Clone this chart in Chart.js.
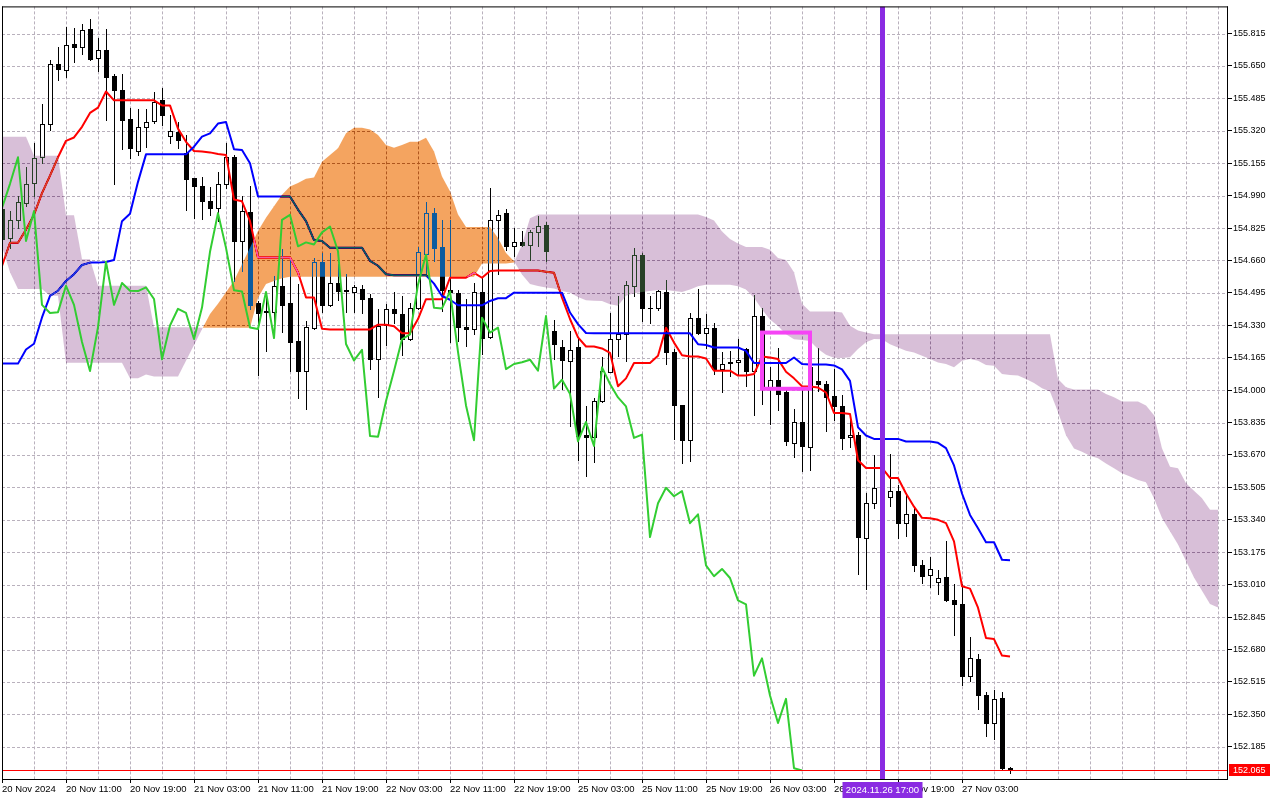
<!DOCTYPE html>
<html>
<head>
<meta charset="utf-8">
<title>USDJPY H1 - Ichimoku</title>
<script src="https://cdn.jsdelivr.net/npm/chart.js@4.4.1/dist/chart.umd.min.js"></script>
<style>
  html, body { margin: 0; padding: 0; background: #fff; overflow: hidden; }
  #wrap { width: 1280px; height: 800px; }
</style>
</head>
<body>
<div id="wrap"><canvas id="ichimokuChart" width="1280" height="800"></canvas></div>
<script>
// H1 bars, 20 Nov 2024 03:00 .. 27 Nov 2024 09:00 (index 0..126)
const openP = [154.92, 154.775, 154.865, 154.952, 155.053, 155.188, 155.353, 155.66, 155.631, 155.761,
  155.748, 155.837, 155.689, 155.731, 155.601, 155.529, 155.382, 155.218, 155.34, 155.37,
  155.475, 155.293, 155.315, 155.208, 155.079, 155.037, 154.963, 154.927, 155.05, 155.185,
  154.759, 154.907, 154.444, 154.402, 154.397, 154.531, 154.444, 154.25, 154.097, 154.316,
  154.653, 154.434, 154.545, 154.508, 154.501, 154.515, 154.467, 154.157, 154.333, 154.414,
  154.39, 154.26, 154.417, 154.693, 154.901, 154.727, 154.508, 154.496, 154.323, 154.311,
  154.501, 154.269, 154.867, 154.901, 154.732, 154.752, 154.737, 154.803, 154.838, 154.299,
  154.222, 154.148, 154.218, 153.772, 153.763, 153.945, 154.094, 154.259, 154.284, 154.532,
  154.689, 154.419, 154.416, 154.498, 154.195, 153.922, 153.745, 154.369, 154.293, 154.318,
  154.107, 154.138, 154.141, 154.208, 154.099, 154.377, 154.01, 154.053, 153.99, 153.732,
  153.838, 153.711, 154.048, 154.03, 153.968, 153.921, 153.764, 153.774, 153.247, 153.424,
  153.50, 153.457, 153.486, 153.323, 153.368, 153.108, 153.058, 153.023, 153.048, 152.93,
  152.91, 152.547, 152.632, 152.446, 152.306, 152.434, 152.076];
const highP = [154.95, 154.91, 154.99, 155.138, 155.259, 155.458, 155.68, 155.748, 155.849, 155.845,
  155.862, 155.887, 155.791, 155.837, 155.609, 155.609, 155.438, 155.433, 155.433, 155.517,
  155.539, 155.399, 155.365, 155.298, 155.082, 155.084, 155.034, 155.108, 155.259, 155.197,
  154.986, 155.037, 154.456, 154.489, 154.582, 154.717, 154.666, 154.54, 154.35, 154.67,
  154.70, 154.70, 154.641, 154.59, 154.535, 154.535, 154.49, 154.414, 154.439, 154.498,
  154.479, 154.446, 154.727, 154.956, 154.929, 154.867, 154.867, 154.508, 154.463, 154.547,
  154.572, 155.027, 154.918, 154.923, 154.825, 154.811, 154.816, 154.884, 154.855, 154.356,
  154.255, 154.299, 154.272, 153.918, 153.962, 154.168, 154.394, 154.478, 154.554, 154.722,
  154.70, 154.478, 154.512, 154.562, 154.208, 153.925, 154.394, 154.515, 154.385, 154.34,
  154.195, 154.20, 154.259, 154.217, 154.486, 154.419, 154.116, 154.217, 154.015, 153.905,
  154.006, 154.15, 154.216, 154.047, 154.106, 153.976, 153.85, 153.786, 153.474, 153.671,
  153.66, 153.676, 153.516, 153.474, 153.407, 153.137, 153.149, 153.087, 153.23, 153.011,
  153.011, 152.745, 152.657, 152.463, 152.472, 152.463, 152.084];
const lowP = [154.74, 154.725, 154.826, 154.939, 154.99, 155.155, 155.323, 155.576, 155.596, 155.668,
  155.711, 155.68, 155.626, 155.373, 155.05, 155.225, 155.18, 155.197, 155.239, 155.36,
  155.348, 155.256, 155.23, 154.919, 154.876, 154.872, 154.889, 154.86, 155.028, 154.557,
  154.607, 154.413, 154.076, 154.198, 154.343, 154.296, 154.097, 153.962, 153.905, 154.309,
  154.40, 154.427, 154.461, 154.397, 154.40, 154.393, 154.107, 153.967, 154.228, 154.343,
  154.181, 154.257, 154.412, 154.589, 154.656, 154.404, 154.244, 154.252, 154.227, 154.286,
  154.185, 154.265, 154.592, 154.715, 154.682, 154.732, 154.66, 154.732, 154.656, 154.159,
  154.008, 153.817, 153.642, 153.564, 153.632, 153.94, 154.09, 154.175, 154.149, 154.478,
  154.352, 154.34, 154.41, 154.133, 153.753, 153.627, 153.639, 154.284, 154.217, 154.082,
  153.99, 154.074, 154.082, 154.023, 153.875, 153.93, 153.83, 153.897, 153.72, 153.661,
  153.588, 153.593, 153.997, 153.79, 153.85, 153.702, 153.71, 153.065, 152.986, 153.398,
  153.42, 153.412, 153.247, 153.26, 153.078, 153.019, 153.0, 152.964, 152.927, 152.755,
  152.497, 152.519, 152.379, 152.239, 152.227, 152.067, 152.053];
const closeP = [154.77, 154.865, 154.956, 155.05, 155.183, 155.357, 155.66, 155.635, 155.756, 155.748,
  155.832, 155.685, 155.731, 155.596, 155.525, 155.377, 155.23, 155.34, 155.365, 155.466,
  155.399, 155.32, 155.272, 155.075, 155.037, 154.963, 154.927, 155.05, 155.185, 154.759,
  154.911, 154.434, 154.393, 154.397, 154.531, 154.434, 154.245, 154.097, 154.321, 154.653,
  154.434, 154.545, 154.506, 154.504, 154.523, 154.464, 154.157, 154.329, 154.414, 154.393,
  154.26, 154.42, 154.704, 154.901, 154.724, 154.508, 154.502, 154.319, 154.311, 154.5,
  154.265, 154.867, 154.892, 154.732, 154.752, 154.741, 154.803, 154.833, 154.707, 154.235,
  154.151, 154.205, 153.767, 153.763, 153.945, 154.097, 154.259, 154.284, 154.537, 154.689,
  154.419, 154.416, 154.503, 154.195, 153.922, 153.745, 154.369, 154.293, 154.318, 154.107,
  154.133, 154.142, 154.155, 154.099, 154.377, 154.008, 154.053, 153.981, 153.74, 153.838,
  153.716, 154.116, 154.031, 153.963, 153.917, 153.757, 153.774, 153.252, 153.424, 153.503,
  153.46, 153.486, 153.323, 153.368, 153.108, 153.053, 153.09, 153.044, 152.93, 152.91,
  152.547, 152.635, 152.446, 152.306, 152.429, 152.076, 152.065];

// Tenkan-sen / Kijun-sen per bar
const tenkan = [154.632, 154.75, 154.75, 154.817, 154.893, 155.003, 155.092, 155.185, 155.269, 155.286,
  155.34, 155.411, 155.438, 155.52, 155.475, 155.475, 155.475, 155.475, 155.475, 155.475,
  155.449, 155.449, 155.331, 155.264, 155.217, 155.214, 155.21, 155.202, 155.197, 154.97,
  154.961, 154.86, 154.675, 154.675, 154.675, 154.675, 154.675, 154.599, 154.472, 154.472,
  154.312, 154.309, 154.309, 154.309, 154.309, 154.309, 154.309, 154.333, 154.333, 154.325,
  154.289, 154.289, 154.362, 154.463, 154.463, 154.463, 154.572, 154.572, 154.572, 154.597,
  154.572, 154.606, 154.609, 154.609, 154.609, 154.609, 154.609, 154.609, 154.603, 154.597,
  154.471, 154.362, 154.269, 154.222, 154.222, 154.212, 154.19, 154.02, 154.06, 154.138,
  154.138, 154.138, 154.175, 154.318, 154.242, 154.178, 154.171, 154.171, 154.161, 154.099,
  154.099, 154.099, 154.074, 154.074, 154.082, 154.171, 154.166, 154.158, 154.094, 154.06,
  154.02, 154.018, 154.013, 153.988, 153.884, 153.884, 153.879, 153.643, 153.604, 153.604,
  153.604, 153.553, 153.553, 153.474, 153.407, 153.35, 153.348, 153.34, 153.323, 153.23,
  153.002, 152.99, 152.893, 152.738, 152.733, 152.649, 152.645];
const kijun = [154.135, 154.135, 154.135, 154.207, 154.236, 154.37, 154.48, 154.506, 154.556, 154.59,
  154.637, 154.649, 154.649, 154.652, 154.662, 154.86, 154.898, 155.06, 155.2, 155.2,
  155.2, 155.2, 155.2, 155.2, 155.239, 155.29, 155.307, 155.357, 155.365, 155.226,
  155.222, 155.155, 154.986, 154.986, 154.986, 154.986, 154.986, 154.919, 154.86, 154.764,
  154.759, 154.725, 154.725, 154.725, 154.725, 154.725, 154.658, 154.633, 154.59, 154.585,
  154.585, 154.585, 154.585, 154.585, 154.542, 154.479, 154.46, 154.432, 154.432, 154.432,
  154.432, 154.454, 154.468, 154.468, 154.496, 154.496, 154.496, 154.496, 154.496, 154.496,
  154.496, 154.395, 154.336, 154.291, 154.289, 154.289, 154.289, 154.289, 154.289, 154.289,
  154.289, 154.289, 154.289, 154.289, 154.289, 154.289, 154.289, 154.234, 154.23, 154.217,
  154.217, 154.217, 154.217, 154.2, 154.138, 154.138, 154.138, 154.138, 154.138, 154.166,
  154.133, 154.131, 154.131, 154.131, 154.126, 154.106, 154.047, 153.811, 153.769, 153.752,
  153.752, 153.752, 153.752, 153.739, 153.739, 153.739, 153.739, 153.732, 153.705, 153.617,
  153.474, 153.365, 153.297, 153.226, 153.226, 153.137, 153.134];

// Chikou span, plotted 26 bars back (index 0..100)
const chikou = [154.927, 155.05, 155.185, 154.759, 154.911, 154.434, 154.393, 154.397, 154.531, 154.434,
  154.245, 154.097, 154.321, 154.653, 154.434, 154.545, 154.506, 154.504, 154.523, 154.464,
  154.157, 154.329, 154.414, 154.393, 154.26, 154.42, 154.704, 154.901, 154.724, 154.508,
  154.502, 154.319, 154.311, 154.5, 154.265, 154.867, 154.892, 154.732, 154.752, 154.741,
  154.803, 154.833, 154.707, 154.235, 154.151, 154.205, 153.767, 153.763, 153.945, 154.097,
  154.259, 154.284, 154.537, 154.689, 154.419, 154.416, 154.503, 154.195, 153.922, 153.745,
  154.369, 154.293, 154.318, 154.107, 154.133, 154.142, 154.155, 154.099, 154.377, 154.008,
  154.053, 153.981, 153.74, 153.838, 153.716, 154.116, 154.031, 153.963, 153.917, 153.757,
  153.774, 153.252, 153.424, 153.503, 153.46, 153.486, 153.323, 153.368, 153.108, 153.053,
  153.09, 153.044, 152.93, 152.91, 152.547, 152.635, 152.446, 152.306, 152.429, 152.076,
  152.065];

// Senkou spans, shifted 26 bars forward (index 0..152)
const spanA = [154.73, 154.6, 154.515, 154.515, 154.515, 154.515, 154.48, 154.48, 154.14, 154.14,
  154.14, 154.14, 154.14, 154.14, 154.14, 154.14, 154.06, 154.06, 154.08, 154.07,
  154.07, 154.07, 154.07, 154.15, 154.23, 154.31, 154.388, 154.44, 154.498, 154.557,
  154.641, 154.725, 154.81, 154.877, 154.936, 154.995, 155.037, 155.054, 155.076, 155.082,
  155.163, 155.197, 155.231, 155.307, 155.335, 155.335, 155.327, 155.298, 155.248, 155.234,
  155.248, 155.264, 155.264, 155.285, 155.214, 155.087, 155.012, 154.894, 154.83, 154.83,
  154.83, 154.83, 154.774, 154.698, 154.656, 154.589, 154.54, 154.53, 154.522, 154.517,
  154.505, 154.496, 154.474, 154.458, 154.455, 154.454, 154.437, 154.429, 154.48, 154.493,
  154.5, 154.505, 154.51, 154.51, 154.505, 154.5, 154.512, 154.529, 154.537, 154.537,
  154.537, 154.537, 154.529, 154.512, 154.47, 154.41, 154.36, 154.326, 154.284, 154.259,
  154.255, 154.25, 154.21, 154.18, 154.165, 154.163, 154.168, 154.21, 154.244, 154.26,
  154.259, 154.234, 154.217, 154.2, 154.192, 154.175, 154.158, 154.141, 154.133, 154.116,
  154.15, 154.158, 154.15, 154.128, 154.124, 154.082, 154.077, 154.074, 154.057, 154.037,
  154.01, 153.993, 153.889, 153.77, 153.703, 153.686, 153.666, 153.653, 153.627, 153.602,
  153.577, 153.56, 153.543, 153.531, 153.45, 153.349, 153.282, 153.215, 153.13, 153.046,
  152.979, 152.911, 152.894];
const spanB = [155.289, 155.289, 155.289, 155.289, 155.193, 155.193, 155.193, 155.193, 154.89, 154.89,
  154.666, 154.666, 154.531, 154.531, 154.531, 154.531, 154.531, 154.531, 154.531, 154.32,
  154.32, 154.32, 154.32, 154.32, 154.32, 154.318, 154.318, 154.318, 154.318, 154.318,
  154.318, 154.318, 154.47, 154.54, 154.556, 154.57, 154.577, 154.577, 154.577, 154.577,
  154.577, 154.577, 154.577, 154.577, 154.577, 154.577, 154.577, 154.577, 154.577, 154.577,
  154.577, 154.577, 154.577, 154.577, 154.577, 154.577, 154.577, 154.577, 154.577, 154.577,
  154.644, 154.644, 154.644, 154.644, 154.65, 154.74, 154.875, 154.894, 154.894, 154.894,
  154.894, 154.894, 154.894, 154.894, 154.894, 154.894, 154.894, 154.894, 154.894, 154.894,
  154.894, 154.894, 154.894, 154.894, 154.894, 154.894, 154.894, 154.894, 154.881, 154.864,
  154.808, 154.769, 154.746, 154.729, 154.729, 154.729, 154.715, 154.673, 154.662, 154.6,
  154.44, 154.40, 154.40, 154.40, 154.40, 154.395, 154.328, 154.303, 154.294, 154.285,
  154.285, 154.285, 154.285, 154.285, 154.285, 154.285, 154.285, 154.285, 154.285, 154.285,
  154.285, 154.285, 154.285, 154.285, 154.285, 154.285, 154.285, 154.285, 154.285, 154.285,
  154.285, 154.285, 154.057, 154.015, 154.003, 154.003, 154.003, 154.003, 153.981, 153.964,
  153.942, 153.942, 153.942, 153.922, 153.872, 153.703, 153.61, 153.602, 153.526, 153.488,
  153.45, 153.391, 153.391];

// axis ticks
const priceTicks = [155.815, 155.650, 155.485, 155.320, 155.155, 154.990, 154.825, 154.660,
  154.495, 154.330, 154.165, 154.000, 153.835, 153.670, 153.505, 153.340, 153.175, 153.010,
  152.845, 152.680, 152.515, 152.350, 152.185];
const labelBars = [0, 8, 16, 24, 32, 40, 48, 56, 64, 72, 80, 88, 96, 104, 112, 120];
const timeLabels = ['20 Nov 2024', '20 Nov 11:00', '20 Nov 19:00', '21 Nov 03:00', '21 Nov 11:00',
  '21 Nov 19:00', '22 Nov 03:00', '22 Nov 11:00', '22 Nov 19:00', '25 Nov 03:00', '25 Nov 11:00',
  '25 Nov 19:00', '26 Nov 03:00', '26 Nov 11:00', '26 Nov 19:00', '27 Nov 03:00'];

// chart objects drawn on top
const bidPrice = 152.065;
const vlineBar = 110;
const vlineLabel = '2024.11.26 17:00';
const boxBars = [95, 101];
const boxPrices = [154.293, 154.007];

const FONT = 'Liberation Sans';
// cloud colours are painted in difference mode: inverse of sandy brown / thistle
const CLOUD_UP = '#0b5b9f';
const CLOUD_DOWN = '#274027';

function clipArea(ctx, a) {
    ctx.beginPath();
    ctx.rect(a.left, a.top, a.right - a.left, a.bottom - a.top);
    ctx.clip();
}

function fillPoly(ctx, pts, color) {
    ctx.fillStyle = color;
    ctx.beginPath();
    ctx.moveTo(pts[0][0], pts[0][1]);
    for (let k = 1; k < pts.length; k++) ctx.lineTo(pts[k][0], pts[k][1]);
    ctx.closePath();
    ctx.fill();
}

const ichimokuDraw = {
    id: 'ichimokuDraw',
    beforeDraw(chart) {
        const ctx = chart.ctx;
        ctx.save();
        ctx.fillStyle = '#fff';
        ctx.fillRect(0, 0, chart.width, chart.height);
        ctx.restore();
    },
    beforeDatasetsDraw(chart) {
        const {ctx, chartArea: a, scales: {x, y}} = chart;
        ctx.save();
        clipArea(ctx, a);
        // dotted grid
        ctx.strokeStyle = '#b9b1bd';
        ctx.lineWidth = 1;
        ctx.setLineDash([3, 2]);
        priceTicks.forEach(function(v) {
            const py = Math.round(y.getPixelForValue(v)) + 0.5;
            ctx.beginPath(); ctx.moveTo(a.left, py); ctx.lineTo(a.right, py); ctx.stroke();
        });
        for (let i = 4; i <= x.max; i += 4) {
            const px = Math.round(x.getPixelForValue(i)) + 0.5;
            ctx.beginPath(); ctx.moveTo(px, a.top); ctx.lineTo(px, a.bottom); ctx.stroke();
        }
        ctx.setLineDash([]);
        // candles
        for (let i = 0; i < closeP.length; i++) {
            const cx = Math.round(x.getPixelForValue(i));
            const yh = Math.round(y.getPixelForValue(highP[i]));
            const yl = Math.round(y.getPixelForValue(lowP[i]));
            const yo = Math.round(y.getPixelForValue(openP[i]));
            const yc = Math.round(y.getPixelForValue(closeP[i]));
            const top = Math.min(yo, yc), h = Math.abs(yo - yc);
            ctx.fillStyle = '#000';
            ctx.fillRect(cx, yh, 1, Math.max(1, yl - yh + 1));
            ctx.fillRect(cx - 2, top, 5, h + 1);
            if (closeP[i] > openP[i] && h >= 2) {
                ctx.fillStyle = '#fff';
                ctx.fillRect(cx - 1, top + 1, 3, h - 1);
            }
        }
        ctx.restore();
    },
    afterDatasetDraw(chart, args) {
        // cloud goes over candles, tenkan and kijun, under chikou
        if (args.index !== 1) return;
        const {ctx, chartArea: a, scales: {x, y}} = chart;
        ctx.save();
        clipArea(ctx, a);
        ctx.globalCompositeOperation = 'difference';
        for (let i = 0; i < spanA.length - 1; i++) {
            const x0 = x.getPixelForValue(i), x1 = x.getPixelForValue(i + 1);
            const a0 = y.getPixelForValue(spanA[i]), a1 = y.getPixelForValue(spanA[i + 1]);
            const b0 = y.getPixelForValue(spanB[i]), b1 = y.getPixelForValue(spanB[i + 1]);
            const d0 = spanA[i] - spanB[i], d1 = spanA[i + 1] - spanB[i + 1];
            if (d0 * d1 >= 0) {
                fillPoly(ctx, [[x0, a0], [x1, a1], [x1, b1], [x0, b0]], (d0 + d1) > 0 ? CLOUD_UP : CLOUD_DOWN);
            } else {
                const t = d0 / (d0 - d1);
                const xc = x0 + t * (x1 - x0), yc = a0 + t * (a1 - a0);
                fillPoly(ctx, [[x0, a0], [xc, yc], [x0, b0]], d0 > 0 ? CLOUD_UP : CLOUD_DOWN);
                fillPoly(ctx, [[xc, yc], [x1, a1], [x1, b1]], d1 > 0 ? CLOUD_UP : CLOUD_DOWN);
            }
        }
        ctx.restore();
    },
    afterDatasetsDraw(chart) {
        const {ctx, chartArea: a, scales: {x, y}} = chart;
        ctx.save();
        clipArea(ctx, a);
        // bid line
        ctx.fillStyle = '#ff0000';
        ctx.fillRect(a.left, Math.round(y.getPixelForValue(bidPrice)), a.right - a.left, 1);
        // rectangle object
        const bx0 = x.getPixelForValue(boxBars[0]), bx1 = x.getPixelForValue(boxBars[1]);
        const by0 = y.getPixelForValue(boxPrices[0]), by1 = y.getPixelForValue(boxPrices[1]);
        ctx.strokeStyle = '#f544f5';
        ctx.lineWidth = 4;
        ctx.strokeRect(bx0, by0, bx1 - bx0, by1 - by0);
        // vertical line object
        const vx = Math.round(x.getPixelForValue(vlineBar));
        ctx.fillStyle = '#8a2be2';
        ctx.fillRect(vx - 2, a.top, 5, a.bottom - a.top);
        ctx.restore();
    },
    afterDraw(chart) {
        const {ctx, chartArea: a, scales: {x, y}} = chart;
        ctx.save();
        ctx.fillStyle = '#000';
        ctx.fillRect(a.left, a.top, 1, a.bottom - a.top + 1);
        ctx.fillRect(a.right, a.top, 1, a.bottom - a.top + 1);
        ctx.fillRect(a.left, a.top, a.right - a.left + 1, 1);
        ctx.fillRect(a.left, a.bottom, a.right - a.left + 1, 1);
        ctx.textBaseline = 'middle';
        // time label of the vertical line
        const vx = Math.round(x.getPixelForValue(vlineBar)) + 0.5;
        ctx.font = '9.5px "' + FONT + '"';
        ctx.fillStyle = '#8a2be2';
        ctx.fillRect(vx - 40, a.bottom + 3, 80, 16);
        ctx.fillStyle = '#fff';
        ctx.textAlign = 'center';
        ctx.fillText(vlineLabel, vx, a.bottom + 11);
        // bid price label
        const by = Math.round(y.getPixelForValue(bidPrice));
        ctx.font = '9px "' + FONT + '"';
        ctx.fillStyle = '#ff0000';
        ctx.fillRect(a.right + 2, by - 6, 41, 12);
        ctx.fillStyle = '#fff';
        ctx.textAlign = 'left';
        ctx.fillText(bidPrice.toFixed(3), a.right + 6, by + 0.5);
        ctx.restore();
    }
};

function lineData(values) {
    return values.map(function(v, i) { return {x: i, y: v}; });
}

document.addEventListener('DOMContentLoaded', function() {
    const ctx = document.getElementById('ichimokuChart');
    Chart.defaults.font.family = FONT;
    Chart.defaults.font.size = 9;
    Chart.defaults.color = '#000';
    new Chart(ctx, {
        type: 'line',
        data: {
            datasets: [
                { label: 'Tenkan-sen', data: lineData(tenkan), borderColor: '#ff0000', borderWidth: 2, order: 3 },
                { label: 'Kijun-sen', data: lineData(kijun), borderColor: '#0000ff', borderWidth: 2, order: 2 },
                { label: 'Chikou Span', data: lineData(chikou), borderColor: '#32cd32', borderWidth: 2, order: 1 }
            ]
        },
        options: {
            responsive: false,
            devicePixelRatio: 1,
            animation: false,
            events: [],
            layout: { padding: { left: 2, top: 2, right: 0, bottom: 0 } },
            elements: {
                point: { radius: 0, hoverRadius: 0 },
                line: { tension: 0, fill: false, borderJoinStyle: 'round' }
            },
            plugins: {
                legend: { display: false },
                tooltip: { enabled: false }
            },
            scales: {
                x: {
                    type: 'linear',
                    position: 'bottom',
                    min: 0,
                    max: 153.125,
                    afterBuildTicks: function(axis) { axis.ticks = labelBars.map(function(v) { return {value: v}; }); },
                    afterFit: function(axis) { axis.height = 21; },
                    grid: { drawOnChartArea: false, drawTicks: true, tickLength: 4, tickColor: '#000' },
                    border: { display: false },
                    ticks: {
                        align: 'start', autoSkip: false, maxRotation: 0, minRotation: 0, padding: 1,
                        color: '#000', font: { family: FONT, size: 9.5 },
                        callback: function(v, i) { return timeLabels[i]; }
                    }
                },
                y: {
                    type: 'linear',
                    position: 'right',
                    min: 152.021,
                    max: 155.953,
                    afterBuildTicks: function(axis) { axis.ticks = priceTicks.map(function(v) { return {value: v}; }); },
                    afterFit: function(axis) { axis.width = 53; },
                    grid: { drawOnChartArea: false, drawTicks: true, tickLength: 5, tickColor: '#000' },
                    border: { display: false },
                    ticks: {
                        padding: 1, color: '#000', font: { family: FONT, size: 9 },
                        callback: function(v) { return Number(v).toFixed(3); }
                    }
                }
            }
        },
        plugins: [ichimokuDraw]
    });
});
</script>
</body>
</html>
